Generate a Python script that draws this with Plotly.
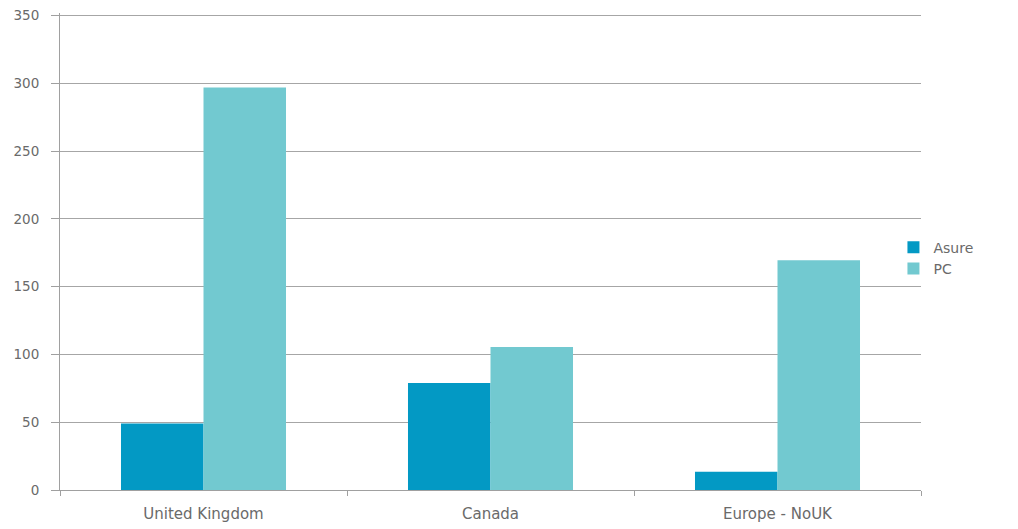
import plotly.graph_objects as go

categories = ["United Kingdom", "Canada", "Europe - NoUK"]
asure = [49, 79, 13.5]
pc = [297, 105.5, 169.5]
y_ticks = [0, 50, 100, 150, 200, 250, 300, 350]

fig = go.Figure()
fig.add_trace(go.Bar(name="Asure", x=categories, y=asure, marker_color="#0399c4", marker_line_width=0))
fig.add_trace(go.Bar(name="PC", x=categories, y=pc, marker_color="#72c9d0", marker_line_width=0))

fig.update_layout(
    width=1018, height=529,
    margin=dict(l=52, r=105, t=5, b=47, autoexpand=False),
    paper_bgcolor="white", plot_bgcolor="white",
    barmode="group", bargap=0.425, bargroupgap=0,
    font=dict(family="DejaVu Sans, sans-serif", size=14, color="#6a6a6a"),
    legend=dict(x=0.968, xanchor="left", y=0.486, yanchor="middle",
                font=dict(size=14, color="#6a6a6a"), itemwidth=30,
                bgcolor="rgba(0,0,0,0)"),
    showlegend=True,
)
fig.update_xaxes(showline=True, linecolor="#a0a0a0", linewidth=1,
                 ticks="outside", tickson="boundaries", ticklen=5, tickcolor="#a0a0a0",
                 showgrid=False, tickfont=dict(size=15), ticklabelstandoff=10,
                 automargin=False)
fig.update_yaxes(range=[0, 352], tickvals=y_ticks, showline=True, linecolor="#a0a0a0",
                 linewidth=1, ticks="outside", ticklen=8, tickcolor="#a0a0a0",
                 showgrid=True, gridcolor="#a6a6a6", gridwidth=1, zeroline=False,
                 tickfont=dict(size=13.5), ticklabelstandoff=9, automargin=False,
                 ticklabeloverflow="allow")

fig.write_html("out.html")
